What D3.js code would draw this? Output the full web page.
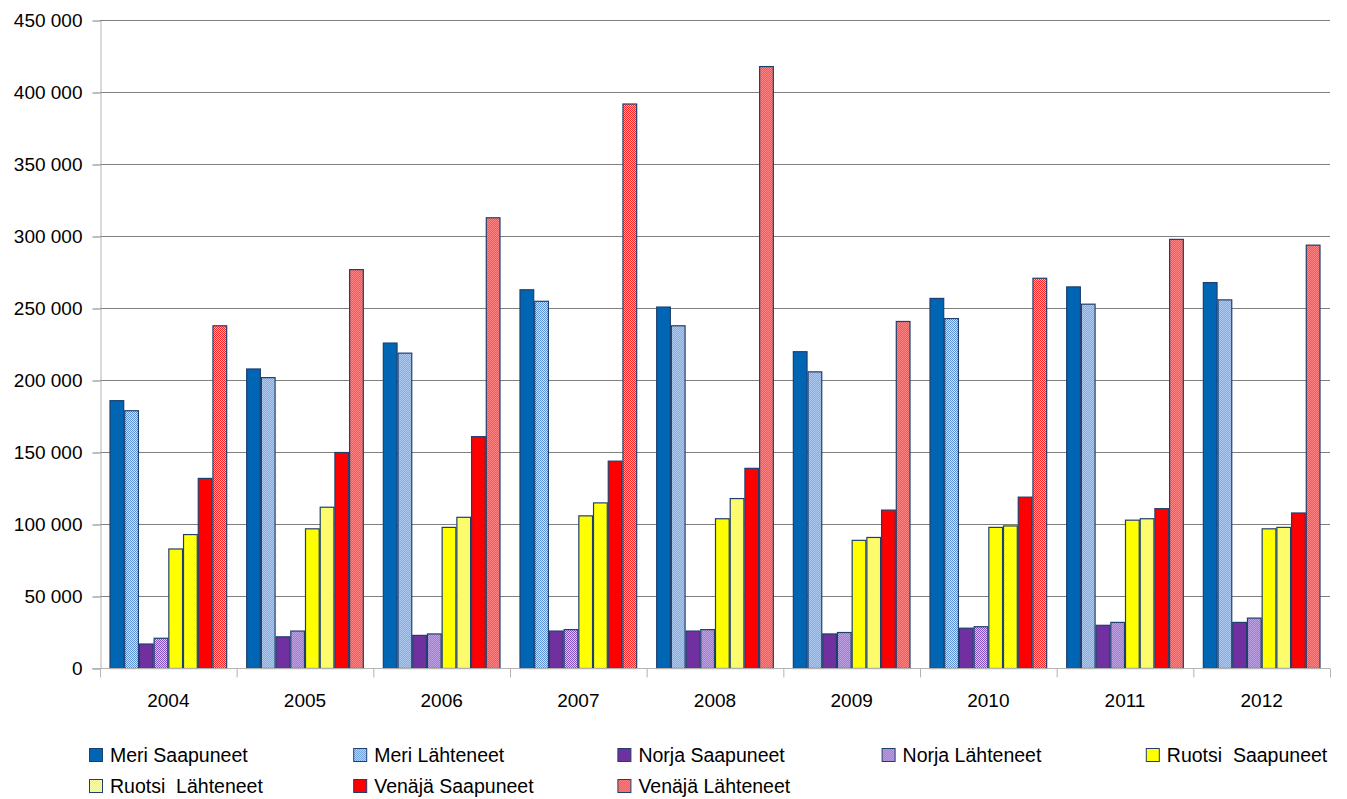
<!DOCTYPE html>
<html>
<head>
<meta charset="utf-8">
<script src="https://cdn.jsdelivr.net/npm/d3@7"></script>
<style>
  body { margin: 0; background: #fff; }
  svg { font-family: "Liberation Sans", Arial, sans-serif; }
</style>
</head>
<body>
<svg id="vis" width="1347" height="799"></svg>
<script>
// chart data
var YEARS = ["2004", "2005", "2006", "2007", "2008", "2009", "2010", "2011", "2012"];
var SERIES = ["Meri Saapuneet", "Meri Lähteneet", "Norja Saapuneet", "Norja Lähteneet",
    "Ruotsi  Saapuneet", "Ruotsi  Lähteneet", "Venäjä Saapuneet", "Venäjä Lähteneet"];
var MERI_SAAPUNEET   = [186000, 208000, 226000, 263000, 251000, 220000, 257000, 265000, 268000];
var MERI_LAHTENEET   = [179000, 202000, 219000, 255000, 238000, 206000, 243000, 253000, 256000];
var NORJA_SAAPUNEET  = [17000, 22000, 23000, 26000, 26000, 24000, 28000, 30000, 32000];
var NORJA_LAHTENEET  = [21000, 26000, 24000, 27000, 27000, 25000, 29000, 32000, 35000];
var RUOTSI_SAAPUNEET = [83000, 97000, 98000, 106000, 104000, 89000, 98000, 103000, 97000];
var RUOTSI_LAHTENEET = [93000, 112000, 105000, 115000, 118000, 91000, 99000, 104000, 98000];
var VENAJA_SAAPUNEET = [132000, 150000, 161000, 144000, 139000, 110000, 119000, 111000, 108000];
var VENAJA_LAHTENEET = [238000, 277000, 313000, 392000, 418000, 241000, 271000, 298000, 294000];
var Y_TICKS = [0, 50000, 100000, 150000, 200000, 250000, 300000, 350000, 400000, 450000];

var VALUES = [MERI_SAAPUNEET, MERI_LAHTENEET, NORJA_SAAPUNEET, NORJA_LAHTENEET,
    RUOTSI_SAAPUNEET, RUOTSI_LAHTENEET, VENAJA_SAAPUNEET, VENAJA_LAHTENEET];

// fill: solid colour, or a checker pattern [dark, light]
var FILLS = [
    {solid: "#0066b3"},
    {id: "pMeri", a: "#5a8fd8", b: "#d6e6fa"},
    {solid: "#7030a0"},
    {id: "pNorja", a: "#8350c4", b: "#dccbf2"},
    {solid: "#ffff00"},
    {id: "pRuotsi", a: "#ffff00", b: "#ffffa8"},
    {solid: "#ff0000"},
    {id: "pVenaja", a: "#ff2222", b: "#ffb4b4"}
];

var W = 1347, H = 799;
var PLOT = {left: 100, right: 1330, top: 20, bottom: 668};

var svg = d3.select("#vis");

// patterns
var defs = svg.append("defs");
FILLS.filter(f => f.id).forEach(function (f) {
    var p = defs.append("pattern")
        .attr("id", f.id)
        .attr("patternUnits", "userSpaceOnUse")
        .attr("width", 2).attr("height", 2);
    p.append("rect").attr("width", 2).attr("height", 2).attr("fill", f.b);
    p.append("rect").attr("width", 1).attr("height", 1).attr("fill", f.a)
        .attr("shape-rendering", "crispEdges");
    p.append("rect").attr("x", 1).attr("y", 1).attr("width", 1).attr("height", 1).attr("fill", f.a)
        .attr("shape-rendering", "crispEdges");
});
function fillOf(i) {
    return FILLS[i].solid ? FILLS[i].solid : "url(#" + FILLS[i].id + ")";
}

var x0 = d3.scaleBand().domain(YEARS).range([PLOT.left, PLOT.right]);
var x1 = d3.scaleBand().domain(d3.range(SERIES.length))
    .range([9.5, x0.bandwidth() - 9.5]);
var y = d3.scaleLinear().domain([0, 450000]).range([PLOT.bottom, PLOT.top]);

var fmt = function (v) {
    return d3.format(",")(v).replace(/,/g, " ");
};

// gridlines
svg.append("g").selectAll("line")
    .data(Y_TICKS.filter(t => t > 0))
    .enter().append("line")
    .attr("x1", PLOT.left).attr("x2", PLOT.right)
    .attr("y1", d => y(d) + 0.5).attr("y2", d => y(d) + 0.5)
    .attr("stroke", "#808080").attr("stroke-width", 1);

// y axis
var yAxis = svg.append("g")
    .attr("transform", "translate(" + (PLOT.left + 0.5) + ",0.5)")
    .call(d3.axisLeft(y).tickValues(Y_TICKS).tickFormat(fmt).tickSize(8).tickSizeOuter(0).tickPadding(10));
yAxis.select(".domain").attr("stroke", "#b3b3b3");
yAxis.selectAll(".tick line").attr("stroke", "#808080");
yAxis.selectAll("text").attr("font-size", 19).attr("fill", "#000")
    .attr("font-family", "Liberation Sans, Arial, sans-serif");

// bars
var groups = svg.append("g").selectAll("g")
    .data(YEARS)
    .enter().append("g")
    .attr("transform", d => "translate(" + x0(d) + ",0)");

groups.selectAll("rect")
    .data((d, yi) => VALUES.map((s, si) => ({si: si, v: s[yi]})))
    .enter().append("rect")
    .attr("x", d => x1(d.si) + 0.5)
    .attr("y", d => y(d.v) + 0.5)
    .attr("width", x1.bandwidth() - 1)
    .attr("height", d => y(0) - y(d.v))
    .attr("fill", d => fillOf(d.si))
    .attr("stroke", "#1f3f6e")
    .attr("stroke-width", 1.2);

// x axis
var xAxis = svg.append("g")
    .attr("transform", "translate(0," + (PLOT.bottom + 0.5) + ")");
xAxis.append("line")
    .attr("x1", PLOT.left - 8).attr("x2", PLOT.right)
    .attr("stroke", "#b3b3b3");
xAxis.selectAll("line.tk")
    .data(YEARS.concat(["end"]))
    .enter().append("line")
    .attr("class", "tk")
    .attr("x1", d => (d === "end" ? PLOT.right : x0(d)) + 0.5)
    .attr("x2", d => (d === "end" ? PLOT.right : x0(d)) + 0.5)
    .attr("y1", 0).attr("y2", 9)
    .attr("stroke", "#b3b3b3");
xAxis.selectAll("text")
    .data(YEARS)
    .enter().append("text")
    .attr("x", d => x0(d) + x0.bandwidth() / 2)
    .attr("y", 38)
    .attr("text-anchor", "middle")
    .attr("font-size", 19)
    .text(d => d);

// legend
var legend = svg.append("g").selectAll("g")
    .data(SERIES)
    .enter().append("g")
    .attr("transform", (d, i) => "translate(" + (89 + (i % 5) * 264.2) + "," + (i < 5 ? 755 : 786) + ")");
legend.append("rect")
    .attr("x", 0.5).attr("y", -6.5)
    .attr("width", 13).attr("height", 13)
    .attr("fill", (d, i) => fillOf(i))
    .attr("stroke", "#1f3f6e");
legend.append("text")
    .attr("x", 21).attr("y", 0)
    .attr("dy", "0.35em")
    .attr("font-size", 19.5)
    .attr("xml:space", "preserve")
    .style("white-space", "pre")
    .text(d => d);
</script>
</body>
</html>
